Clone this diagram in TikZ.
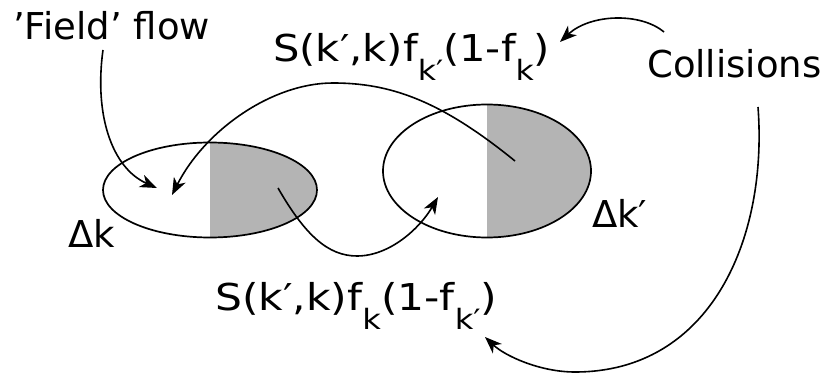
\documentclass[tikz,border=0pt]{standalone}
\usepackage{fontspec}
\setmainfont{DejaVu Sans}
\usetikzlibrary{arrows.meta,shapes.geometric}
\definecolor{shadegray}{RGB}{180,180,180}
\newcommand{\sbk}[1]{\raisebox{-19pt}{\fontsize{28}{28}\selectfont #1}}
\tikzset{
  lbl/.style={inner sep=0pt, anchor=base west, font=\fontsize{37}{40}\selectfont},
  blob/.style={ellipse, draw, line width=1.7pt, inner sep=0pt,
    path picture={\fill[shadegray] (path picture bounding box.north) rectangle (path picture bounding box.south east);}},
  arr/.style={line width=1.6pt, -{Stealth[length=17pt,width=13pt,inset=5pt]}}
}
\begin{document}
\begin{tikzpicture}[x=1pt,y=-1pt]
\useasboundingbox (0,0) rectangle (824,374);
% ellipses
\node[blob, minimum width=214pt, minimum height=95pt] (L) at (210,190) {};
\node[blob, minimum width=208pt, minimum height=133pt] (R) at (487,171) {};
% labels
\node[lbl] (ff) at (13,40) {’Field’ flow};
\node[lbl] (top) at (273,62) {\resizebox{277pt}{\height}{S(k′,k)f\sbk{k′}(1-f\sbk{k})}};
\node[lbl] (col) at (647,78) {Collisions};
\node[lbl] (dk) at (68,247) {Δk};
\node[lbl] (dkp) at (592,227) {Δk′};
\node[lbl] (bot) at (215,310) {\resizebox{282pt}{\height}{S(k′,k)f\sbk{k}(1-f\sbk{k′})}};
% coordinates
\coordinate (a1s) at (103,50);
\coordinate (a1e) at (157,188);
\coordinate (a2s) at (515,161);
\coordinate (a2e) at (172,195);
\coordinate (a3s) at (278,188);
\coordinate (a3e) at (438,197);
\coordinate (a4s) at (664,32);
\coordinate (a4e) at (560,42);
\coordinate (a5s) at (758,107);
\coordinate (a5e) at (485,337);
% arrows
\draw[arr] (a1s) .. controls (94,115) and (112,168) .. (a1e);
\draw[arr] (a2s) .. controls (440,100) and (390,83) .. (333,83) .. controls (272,83) and (205,130) .. (a2e);
\draw[arr] (a3s) .. controls (305,235) and (328,256) .. (357,256) .. controls (390,256) and (420,228) .. (a3e);
\draw[arr] (a4s) .. controls (640,12) and (590,14) .. (a4e);
\draw[arr] (a5s) .. controls (768,240) and (710,372) .. (575,372) .. controls (540,372) and (505,356) .. (a5e);
\end{tikzpicture}
\end{document}
